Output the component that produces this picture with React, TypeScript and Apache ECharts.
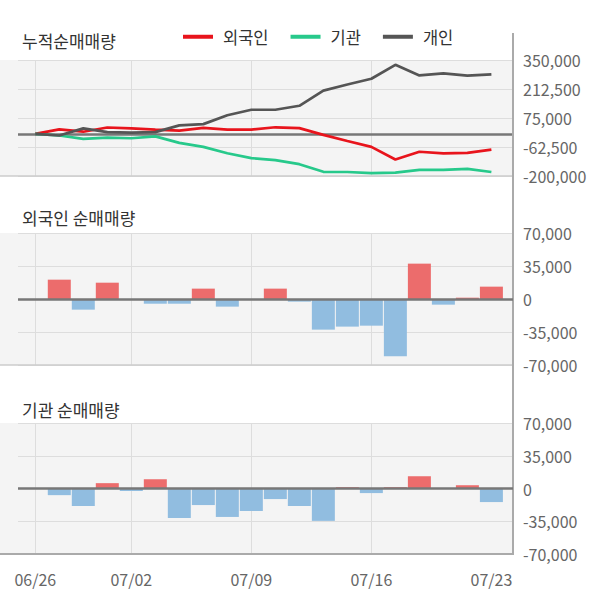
import React, { useEffect, useRef } from 'react';
import * as echarts from 'echarts';

const dates = ['06/26', '06/27', '06/28', '07/01', '07/02', '07/03', '07/04', '07/05', '07/08', '07/09', '07/10', '07/11', '07/12', '07/15', '07/16', '07/17', '07/18', '07/19', '07/22', '07/23'];

const seriesNames = ['외국인', '기관', '개인'];
const foreignCum = [0, 20800, 10000, 30000, 26000, 20000, 15000, 28000, 20000, 20000, 31000, 27000, -5000, -34000, -62000, -122000, -85000, -93000, -90000, -75000];
const instCum = [0, -8000, -24000, -18000, -21000, -12000, -43000, -62000, -92000, -115000, -125000, -144000, -180000, -181000, -186000, -184000, -171000, -171000, -166000, -181000];
const indivCum = [0, -8000, 26000, 8000, 6000, 8000, 40000, 46000, 88000, 114000, 114000, 133000, 205000, 234000, 261000, 327000, 277000, 287000, 276000, 282000];

const foreignDaily = [0, 20500, -11300, 17300, 0, -5000, -5000, 11000, -8100, 0, 11000, -2800, -32500, -29300, -28300, -60800, 37500, -6000, 1400, 13100];
const instDaily = [0, -7100, -18700, 5700, -2800, 9900, -31500, -17700, -30400, -24000, -11300, -18700, -34600, 1400, -4900, 1400, 13100, 0, 3500, -14500];

const cumTicks = [-200000, -62500, 75000, 212500, 350000];
const dailyTicks = [-70000, -35000, 0, 35000, 70000];
const labelIdx = [0, 4, 9, 14, 19];
const gridIdx = [0, 4, 9, 14];

const titles = ['누적순매매량', '외국인 순매매량', '기관 순매매량'];

const FONT = '"Noto Sans CJK KR", "Noto Sans", sans-serif';
const LINE_COLORS = ['#e8141c', '#27c98b', '#555555'];
const UP = '#ec6c6c';
const DOWN = '#91bde0';
const BG = '#f4f4f4';
const GRID_LINE = '#dddddd';

const PLOT_LEFT = 18;
const PLOT_WIDTH = 495;
const PLOT_RIGHT = PLOT_LEFT + PLOT_WIDTH;
const panels = [
  { top: 60, height: 116 },
  { top: 233, height: 132 },
  { top: 423, height: 131 },
];

const fmt = (v: number) => Math.round(v).toLocaleString('en-US');

export default function App() {
  const ref = useRef<HTMLDivElement>(null);
  useEffect(() => {
    if (!ref.current) return;
    const chart = echarts.init(ref.current, undefined, { renderer: 'svg' });

    const xAxes = panels.map((_, i) => ({
      type: 'value',
      gridIndex: i,
      min: -0.72,
      max: 19.9,
      axisLine: { show: false },
      axisTick: { show: false, customValues: gridIdx },
      splitLine: { show: true, lineStyle: { color: GRID_LINE, width: 1 } },
      axisLabel: {
        show: i === 2,
        customValues: labelIdx,
        formatter: (v: number) => dates[Math.round(v)] ?? '',
        color: '#666',
        fontFamily: FONT,
        fontSize: 16,
        margin: 17,
      },
    }));

    const yAxes = panels.map((_, i) => {
      const ticks = i === 0 ? cumTicks : dailyTicks;
      return {
        type: 'value',
        gridIndex: i,
        position: 'right',
        min: ticks[0],
        max: ticks[ticks.length - 1],
        axisLine: { show: false },
        axisTick: { show: false, customValues: ticks },
        splitLine: { show: true, lineStyle: { color: GRID_LINE, width: 1 } },
        axisLabel: {
          customValues: ticks,
          formatter: (v: number) => fmt(v),
          color: '#666',
          fontFamily: FONT,
          fontSize: 16,
          margin: 10,
        },
      };
    });

    const zeroLine = {
      silent: true,
      symbol: 'none',
      label: { show: false },
      lineStyle: { color: '#777', width: 2.5, type: 'solid' },
      data: [{ yAxis: 0 }],
    };

    const cumData = [foreignCum, instCum, indivCum];
    const lineSeries = cumData.map((arr, k) => ({
      type: 'line',
      name: seriesNames[k],
      xAxisIndex: 0,
      yAxisIndex: 0,
      data: arr.map((v, i) => [i, v]),
      showSymbol: false,
      symbol: 'none',
      lineStyle: { color: LINE_COLORS[k], width: 2.7 },
      itemStyle: { color: LINE_COLORS[k] },
      z: 3,
      ...(k === 0 ? { markLine: { ...zeroLine, z: 1 } } : {}),
    }));

    const barSeries = [foreignDaily, instDaily].map((arr, k) => ({
      type: 'bar',
      xAxisIndex: k + 1,
      yAxisIndex: k + 1,
      barWidth: 23,
      data: arr.map((v, i) => ({
        value: [i, v],
        itemStyle: { color: v >= 0 ? UP : DOWN },
      })),
      markLine: zeroLine,
    }));

    const graphics: any[] = [];
    panels.forEach((p) => {
      graphics.push({
        type: 'rect',
        shape: { x: 0, y: p.top, width: PLOT_RIGHT, height: p.height },
        style: { fill: BG },
        z: -10,
        silent: true,
      });
    });
    [0, 1].forEach((i) => {
      const y = panels[i].top + panels[i].height;
      graphics.push({
        type: 'line',
        shape: { x1: 0, y1: y, x2: PLOT_RIGHT, y2: y },
        style: { stroke: '#cccccc', lineWidth: 1.5 },
        z: 5,
        silent: true,
      });
    });
    const yb = panels[2].top + panels[2].height;
    graphics.push({
      type: 'line',
      shape: { x1: 0, y1: yb, x2: PLOT_RIGHT, y2: yb },
      style: { stroke: '#aaaaaa', lineWidth: 2 },
      z: 5,
      silent: true,
    });
    graphics.push({
      type: 'line',
      shape: { x1: PLOT_RIGHT, y1: 33, x2: PLOT_RIGHT, y2: yb + 1 },
      style: { stroke: '#aaaaaa', lineWidth: 2 },
      z: 5,
      silent: true,
    });
    const titleY = [40.5, 217.5, 409];
    titles.forEach((t, i) => {
      graphics.push({
        type: 'text',
        x: 22,
        y: titleY[i],
        style: {
          text: t,
          font: `17px ${FONT}`,
          fill: '#333',
          verticalAlign: 'middle',
        },
        z: 5,
        silent: true,
      });
    });

    chart.setOption({
      animation: false,
      backgroundColor: '#ffffff',
      textStyle: { fontFamily: FONT },
      grid: panels.map((p) => ({
        left: PLOT_LEFT,
        top: p.top,
        width: PLOT_WIDTH,
        height: p.height,
        containLabel: false,
      })),
      legend: {
        data: seriesNames,
        left: 183,
        top: 28.5,
        padding: 0,
        icon: 'rect',
        itemWidth: 30,
        itemHeight: 4,
        itemGap: 22,
        textStyle: { fontFamily: FONT, fontSize: 16.5, color: '#333', padding: [0, 0, 0, 5] },
        selectedMode: false,
      },
      xAxis: xAxes,
      yAxis: yAxes,
      graphic: graphics,
      series: [...lineSeries, ...barSeries],
    });

    return () => chart.dispose();
  }, []);

  return (
    <div
      ref={ref}
      style={{ position: 'fixed', left: 0, top: 0, width: 600, height: 604 }}
    />
  );
}
